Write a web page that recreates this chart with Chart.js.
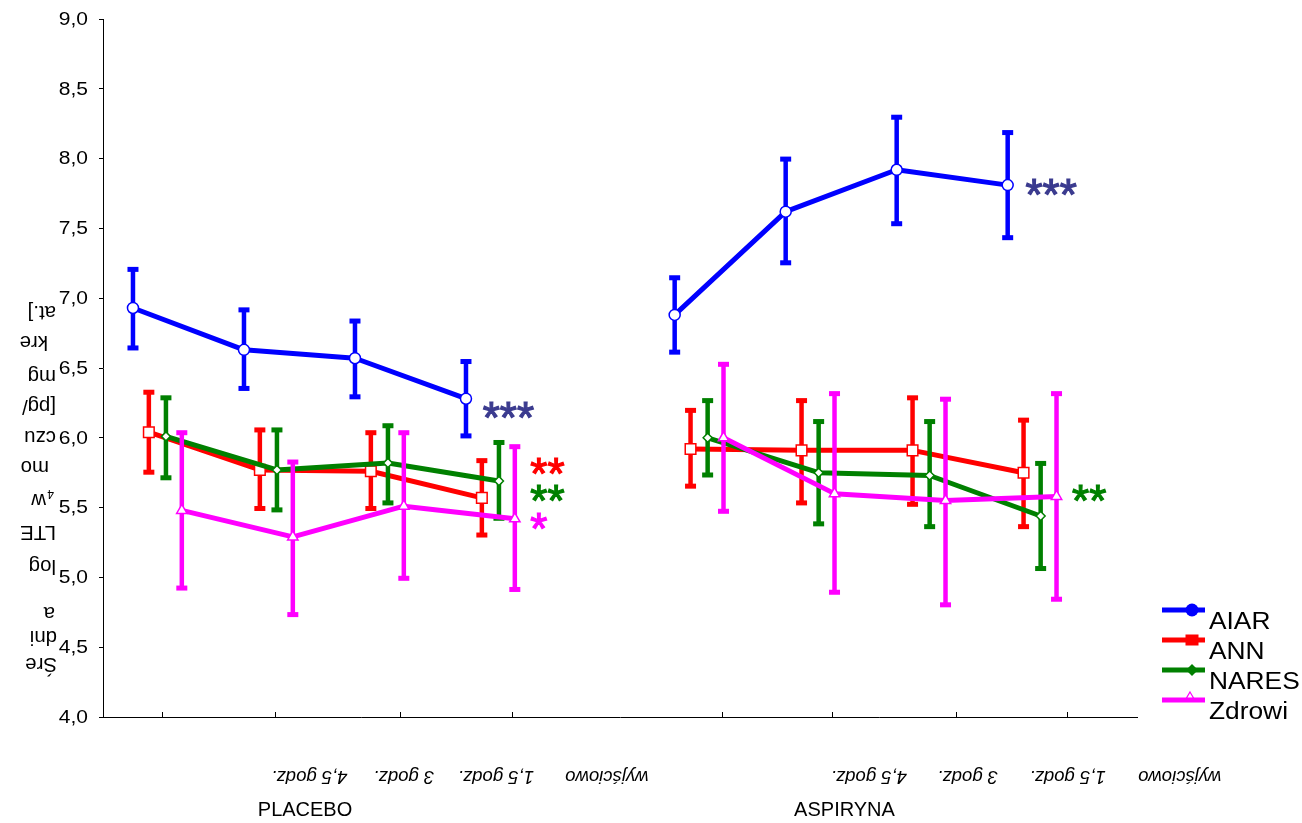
<!DOCTYPE html>
<html lang="pl">
<head>
<meta charset="utf-8">
<title>LTE4 - AIAR, ANN, NARES, Zdrowi</title>
<script src="https://cdn.jsdelivr.net/npm/chart.js"></script>
<style>
    html, body { margin: 0; padding: 0; background: #fff; }
    #wrap { width: 1302px; height: 823px; }
</style>
</head>
<body>
<div id="wrap"><canvas id="chart" width="1302" height="823"></canvas></div>
<script>
// Dane
const groups = ['PLACEBO', 'ASPIRYNA'];
const timePoints = ['wyjściowo', '1,5 godz.', '3 godz.', '4,5 godz.'];

// srednia, dolna i gorna granica (placebo x4, aspiryna x4)
const aiarMean = [6.93, 6.63, 6.57, 6.28, 6.88, 7.62, 7.92, 7.81];
const aiarLow  = [6.64, 6.35, 6.29, 6.01, 6.61, 7.25, 7.53, 7.43];
const aiarHigh = [7.21, 6.92, 6.84, 6.55, 7.15, 8.00, 8.30, 8.19];

const annMean = [6.04, 5.77, 5.76, 5.57, 5.92, 5.91, 5.91, 5.75];
const annLow  = [5.75, 5.49, 5.49, 5.30, 5.65, 5.53, 5.52, 5.36];
const annHigh = [6.33, 6.06, 6.04, 5.84, 6.20, 6.27, 6.29, 6.13];

const naresMean = [6.01, 5.77, 5.82, 5.69, 6.00, 5.75, 5.73, 5.44];
const naresLow  = [5.71, 5.48, 5.53, 5.42, 5.73, 5.38, 5.36, 5.06];
const naresHigh = [6.29, 6.06, 6.09, 5.97, 6.27, 6.12, 6.12, 5.82];

const zdrowiMean = [5.48, 5.29, 5.51, 5.42, 6.00, 5.60, 5.55, 5.58];
const zdrowiLow  = [4.92, 4.73, 4.99, 4.91, 5.47, 4.89, 4.80, 4.84];
const zdrowiHigh = [6.04, 5.83, 6.04, 5.94, 6.53, 6.32, 6.28, 6.32];

// gwiazdki istotnosci: tekst, kolor, x (jednostki osi), y (wartosc)
const stars = [
    { text: '***', color: '#3b3b8f', x: 3.42, y: 6.19 },
    { text: '**',  color: '#ff0000', x: 3.85, y: 5.79 },
    { text: '**',  color: '#008000', x: 3.85, y: 5.60 },
    { text: '*',   color: '#ff00ff', x: 3.85, y: 5.40 },
    { text: '***', color: '#3b3b8f', x: 8.31, y: 7.79 },
    { text: '**',  color: '#008000', x: 8.73, y: 5.60 }
];

// Uklad osi X
const groupStart = [0.49, 5.37];
const seriesShift = [-0.22, -0.077, 0.077, 0.22];
const xTickMarks = [0.54, 1.55, 2.68, 3.685, 5.58, 6.57, 7.69, 8.69];
const timeLabelSlots = [[4.54, 3.54, 2.71, 1.86], [9.70, 8.69, 7.79, 6.90]];
const groupLabelSlots = [1.82, 6.68];

const FONT = "'Liberation Sans', Arial, sans-serif";

function buildPoints(mean, low, high, s) {
    const pts = [];
    groups.forEach(function(g, gi) {
        timePoints.forEach(function(t, ti) {
            const k = gi * timePoints.length + ti;
            pts.push({ x: groupStart[gi] + ti + seriesShift[s], y: mean[k], low: low[k], high: high[k] });
        });
        // przerwa miedzy grupami
        if (gi === 0) pts.push({ x: groupStart[0] + timePoints.length, y: null });
    });
    return pts;
}

function series(label, color, s, mean, low, high, style, radius, order) {
    return {
        label: label,
        data: buildPoints(mean, low, high, s),
        borderColor: color,
        backgroundColor: color,
        borderWidth: 5,
        borderJoinStyle: 'round',
        tension: 0,
        pointStyle: style,
        pointRadius: radius,
        pointBackgroundColor: '#ffffff',
        pointBorderColor: color,
        pointBorderWidth: 1.5,
        order: order
    };
}

// Slupki bledow rysowane przed linia danej serii
const errorBars = {
    id: 'errorBars',
    beforeDatasetDraw(chart, args) {
        const ds = chart.data.datasets[args.index];
        const ys = chart.scales.y;
        const ctx = chart.ctx;
        ctx.save();
        ctx.strokeStyle = ds.borderColor;
        ctx.fillStyle = ds.borderColor;
        ctx.lineWidth = 4.5;
        args.meta.data.forEach(function(el, i) {
            const d = ds.data[i];
            if (d.y === null) return;
            const top = ys.getPixelForValue(d.high);
            const bot = ys.getPixelForValue(d.low);
            ctx.beginPath();
            ctx.moveTo(el.x, top);
            ctx.lineTo(el.x, bot);
            ctx.stroke();
            ctx.fillRect(el.x - 5.5, top - 2, 11, 5);
            ctx.fillRect(el.x - 5.5, bot - 3, 11, 5);
        });
        ctx.restore();
    }
};

function text(ctx, str, x, y, opts) {
    ctx.save();
    ctx.translate(x, y);
    if (opts.flip) ctx.rotate(Math.PI);
    ctx.scale(opts.sx || 1, 1);
    ctx.font = opts.font;
    ctx.fillStyle = opts.color || '#000';
    ctx.textAlign = opts.align || 'left';
    ctx.textBaseline = opts.baseline || 'alphabetic';
    ctx.fillText(str, 0, 0);
    if (opts.stroke) {
        ctx.strokeStyle = opts.color || '#000';
        ctx.lineWidth = opts.stroke;
        ctx.strokeText(str, 0, 0);
    }
    ctx.restore();
}

// Wszystkie napisy: osie, tytul, legenda, gwiazdki
const labels = {
    id: 'labels',
    afterDraw(chart) {
        const ctx = chart.ctx;
        const xs = chart.scales.x;
        const ys = chart.scales.y;
        const area = chart.chartArea;

        // etykiety osi Y
        ys.ticks.forEach(function(t) {
            text(ctx, t.value.toFixed(1).replace('.', ','), 88, ys.getPixelForValue(t.value) + 1,
                { font: '17.5px ' + FONT, align: 'right', baseline: 'middle', sx: 1.2 });
        });

        // tytul osi Y (odwrocony, jak w oryginale)
        const titleLines = [
            ['at.]', 56, 306], ['kre', 48, 336], ['mg', 56, 370], ['[pg/', 56, 400],
            ['czu', 56, 431], ['mo', 49, 461], ['w', 46, 494], ['LTE', 56, 526],
            ['log', 56, 560], ['a', 55, 607], ['dni', 57, 631], ['Śre', 57, 658]
        ];
        titleLines.forEach(function(l) {
            text(ctx, l[0], l[1], l[2], { font: '20px ' + FONT, flip: true, sx: 1.02 });
        });
        text(ctx, '4', 54, 489.5, { font: '12px ' + FONT, flip: true });

        // etykiety czasu (odwrocone) i nazwy grup
        groups.forEach(function(g, gi) {
            timePoints.forEach(function(t, ti) {
                text(ctx, t, xs.getPixelForValue(timeLabelSlots[gi][ti]), 776,
                    { font: 'italic 18.5px ' + FONT, flip: true, align: 'center', baseline: 'middle' });
            });
            text(ctx, g, xs.getPixelForValue(groupLabelSlots[gi]), 816,
                { font: '20px ' + FONT, align: 'center' });
        });

        // gwiazdki
        stars.forEach(function(s) {
            text(ctx, s.text, xs.getPixelForValue(s.x), ys.getPixelForValue(s.y) + 22,
                { font: '44px ' + FONT, color: s.color, stroke: 1.2 });
        });

        // legenda
        const lx = area.right + 25;
        chart.data.datasets.forEach(function(ds, i) {
            const y = area.bottom - 107 + i * 30;
            const mx = lx + 30;
            ctx.save();
            ctx.strokeStyle = ds.borderColor;
            ctx.fillStyle = ds.borderColor;
            ctx.lineWidth = 5;
            ctx.beginPath();
            ctx.moveTo(lx, y);
            ctx.lineTo(lx + 43, y);
            ctx.stroke();
            ctx.beginPath();
            if (ds.pointStyle === 'circle') {
                ctx.arc(mx, y, 6.5, 0, Math.PI * 2);
                ctx.fill();
            } else if (ds.pointStyle === 'rect') {
                ctx.fillRect(mx - 6.5, y - 5.5, 13, 11);
            } else if (ds.pointStyle === 'rectRot') {
                ctx.moveTo(mx, y - 6); ctx.lineTo(mx + 6, y); ctx.lineTo(mx, y + 6); ctx.lineTo(mx - 6, y);
                ctx.closePath();
                ctx.fill();
            } else {
                ctx.fillStyle = '#fff';
                ctx.lineWidth = 1.2;
                ctx.moveTo(mx - 2, y - 8); ctx.lineTo(mx + 1.5, y - 2); ctx.lineTo(mx - 5.5, y - 2);
                ctx.closePath();
                ctx.fill();
                ctx.stroke();
            }
            ctx.restore();
            text(ctx, ds.label, lx + 47, y + 18.5, { font: '23.5px ' + FONT, sx: 1.12 });
        });
    }
};

const chart = new Chart(document.getElementById('chart'), {
    type: 'line',
    data: {
        datasets: [
            series('AIAR', '#0000ff', 0, aiarMean, aiarLow, aiarHigh, 'circle', 5.5, 3),
            series('ANN', '#ff0000', 1, annMean, annLow, annHigh, 'rect', 7.5, 2),
            series('NARES', '#008000', 2, naresMean, naresLow, naresHigh, 'rectRot', 4.5, 1),
            series('Zdrowi', '#ff00ff', 3, zdrowiMean, zdrowiLow, zdrowiHigh, 'triangle', 6, 0)
        ]
    },
    options: {
        responsive: false,
        animation: false,
        layout: { padding: { left: 0, top: 19, right: 165, bottom: 106 } },
        plugins: {
            legend: { display: false },
            tooltip: { enabled: false }
        },
        scales: {
            x: {
                type: 'linear',
                min: 0,
                max: 9.315,
                ticks: { display: false },
                afterBuildTicks: function(scale) {
                    scale.ticks = xTickMarks.map(function(v) { return { value: v }; });
                },
                afterFit: function(scale) { scale.height = 0; },
                grid: { drawOnChartArea: false, drawTicks: true, tickLength: -5, color: '#000', lineWidth: 1 },
                border: { color: '#000', width: 1 }
            },
            y: {
                min: 4,
                max: 9,
                ticks: { stepSize: 0.5, display: false },
                afterFit: function(scale) { scale.width = 103; },
                grid: { drawOnChartArea: false, tickLength: 4, color: '#000', lineWidth: 1 },
                border: { color: '#000', width: 1 }
            }
        }
    },
    plugins: [errorBars, labels]
});
</script>
</body>
</html>
